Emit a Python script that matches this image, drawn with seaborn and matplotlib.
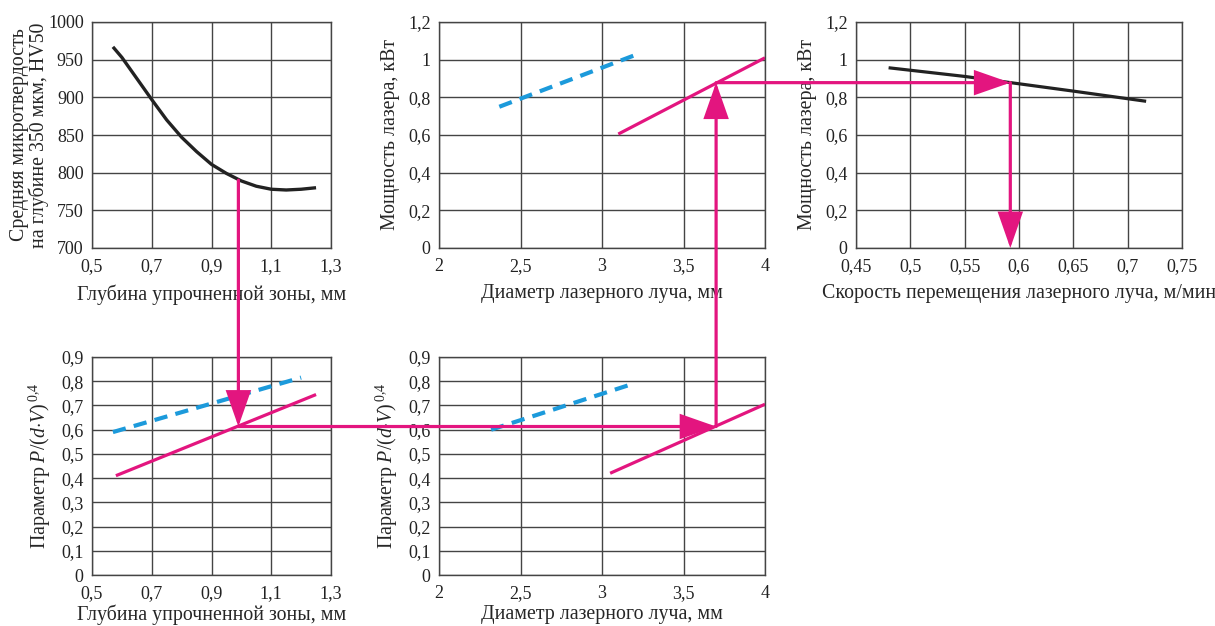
import numpy as np
import pandas as pd
import matplotlib
matplotlib.use("Agg")
import matplotlib.pyplot as plt
from matplotlib.patches import ConnectionPatch
import matplotlib.ticker as mticker
import seaborn as sns

# ---------------- data ----------------
# Panel 1: average microhardness vs depth of hardened zone
depth_hv = [0.57, 0.60, 0.65, 0.70, 0.75, 0.80, 0.85, 0.90, 0.95, 1.00,
            1.05, 1.10, 1.15, 1.20, 1.25]
hv50 = [967, 953, 925, 897, 870, 847, 828, 811, 799, 789,
        782, 778, 777, 778, 780]

# Panel 2: laser power vs beam diameter
diam_blue_p = [2.37, 3.22]
power_blue = [0.75, 1.03]
diam_pink_p = [3.10, 4.00]
power_pink = [0.605, 1.01]

# Panel 3: laser power vs beam speed
speed = [0.48, 0.55, 0.65, 0.717]
power_speed = [0.957, 0.911, 0.833, 0.779]

# Panel 4: parameter P/(dV)^0.4 vs depth
depth_blue = [0.57, 1.20]
param_blue_d = [0.59, 0.815]
depth_pink = [0.58, 1.25]
param_pink_d = [0.41, 0.745]

# Panel 5: parameter P/(dV)^0.4 vs beam diameter
diam_blue_q = [2.32, 3.17]
param_blue_q = [0.60, 0.785]
diam_pink_q = [3.05, 4.00]
param_pink_q = [0.42, 0.705]

# nomogram path (reading example)
path_depth = 0.99
path_hv = 790
path_param = 0.613
path_diam = 3.70
path_power = 0.878
path_speed = 0.592

# tick labels
ticks_depth = [0.5, 0.7, 0.9, 1.1, 1.3]
ticks_hv = [700, 750, 800, 850, 900, 950, 1000]
ticks_diam = [2, 2.5, 3, 3.5, 4]
ticks_power = [0, 0.2, 0.4, 0.6, 0.8, 1.0, 1.2]
ticks_speed = [0.45, 0.5, 0.55, 0.6, 0.65, 0.7, 0.75]
ticks_param = [0, 0.1, 0.2, 0.3, 0.4, 0.5, 0.6, 0.7, 0.8, 0.9]

# ---------------- style ----------------
sns.set_style("white")
plt.rcParams["font.family"] = ["Liberation Serif", "DejaVu Serif"]
plt.rcParams["mathtext.fontset"] = "custom"
plt.rcParams["mathtext.rm"] = "Liberation Serif"
plt.rcParams["mathtext.it"] = "Liberation Serif:italic"

BLACK = "#222222"
PINK = "#E3157F"
BLUE = "#1C9ADB"
GRID = "#444444"
TICK_FS = 13
LABEL_FS = 14.3

W, H = 1215, 626
fig = plt.figure(figsize=(W / 100, H / 100), dpi=100)


def add_ax(l, t, r, b):
    return fig.add_axes([l / W, 1 - b / H, (r - l) / W, (b - t) / H])


ax1 = add_ax(92, 22, 331, 248)
ax2 = add_ax(439, 22, 765, 248)
ax3 = add_ax(856, 22, 1182, 248)
ax4 = add_ax(92, 357, 331, 575)
ax5 = add_ax(439, 357, 765, 575)


def fmt(v, pos=None):
    return ("%g" % v).replace(".", ",")


def style(ax, xt, yt):
    ax.set_xticks(xt)
    ax.set_yticks(yt)
    ax.set_xlim(xt[0], xt[-1])
    ax.set_ylim(yt[0], yt[-1])
    ax.xaxis.set_major_formatter(mticker.FuncFormatter(fmt))
    ax.yaxis.set_major_formatter(mticker.FuncFormatter(fmt))
    ax.grid(True, color=GRID, linewidth=1.0)
    ax.tick_params(axis="x", length=0, labelsize=TICK_FS, pad=7, colors="#222222")
    ax.tick_params(axis="y", length=0, labelsize=TICK_FS, pad=6, colors="#222222")
    for s in ax.spines.values():
        s.set_color(GRID)
        s.set_linewidth(1.0)
    ax.set_axisbelow(True)


def line(ax, x, y, color, dashed=False, lw=2.3):
    df = pd.DataFrame({"x": x, "y": y})
    sns.lineplot(data=df, x="x", y="y", ax=ax, color=color, linewidth=lw,
                 sort=False, estimator=None, legend=False)
    ln = ax.lines[-1]
    if dashed:
        ln.set_dashes([3.2, 2.0])
        ln.set_linewidth(3.0)
    ln.set_solid_capstyle("butt")
    ln.set_solid_joinstyle("round")
    ax.set_xlabel("")
    ax.set_ylabel("")


# Panel 1
line(ax1, depth_hv, hv50, BLACK, lw=2.4)
style(ax1, ticks_depth, ticks_hv)
ax1.set_ylabel("Средняя микротвердость\nна глубине 350 мкм, HV50", fontsize=LABEL_FS,
               linespacing=1.0, labelpad=-1)
ax1.set_xlabel("Глубина упрочненной зоны, мм", fontsize=LABEL_FS, labelpad=7)

# Panel 2
line(ax2, diam_blue_p, power_blue, BLUE, dashed=True)
line(ax2, diam_pink_p, power_pink, PINK)
style(ax2, ticks_diam, ticks_power)
ax2.set_ylabel("Мощность лазера, кВт", fontsize=LABEL_FS, labelpad=6)
ax2.set_xlabel("Диаметр лазерного луча, мм", fontsize=LABEL_FS, labelpad=7)

# Panel 3
line(ax3, speed, power_speed, BLACK)
style(ax3, ticks_speed, ticks_power)
ax3.set_ylabel("Мощность лазера, кВт", fontsize=LABEL_FS, labelpad=6)
ax3.set_xlabel("Скорость перемещения лазерного луча, м/мин", fontsize=LABEL_FS, labelpad=7)

# Panel 4
line(ax4, depth_blue, param_blue_d, BLUE, dashed=True)
line(ax4, depth_pink, param_pink_d, PINK)
style(ax4, ticks_depth, ticks_param)
ylab = r"Параметр $P/(d{\cdot}V)^{\,\mathrm{0{,}4}}$"
ax4.set_ylabel(ylab, fontsize=LABEL_FS, labelpad=6)
ax4.set_xlabel("Глубина упрочненной зоны, мм", fontsize=LABEL_FS, labelpad=2)

# Panel 5
line(ax5, diam_blue_q, param_blue_q, BLUE, dashed=True)
line(ax5, diam_pink_q, param_pink_q, PINK)
style(ax5, ticks_diam, ticks_param)
ax5.set_ylabel(ylab, fontsize=LABEL_FS, labelpad=6)
ax5.set_xlabel("Диаметр лазерного луча, мм", fontsize=LABEL_FS, labelpad=2)

# ---------------- nomogram path ----------------
astyle = "-|>,head_length=1.2,head_width=0.42"


def connect(pa, axa, pb, axb, arrow=True):
    cp = ConnectionPatch(xyA=pa, coordsA=axa.transData, xyB=pb, coordsB=axb.transData,
                         arrowstyle=astyle if arrow else "-", mutation_scale=18,
                         color=PINK, linewidth=2.3, shrinkA=0, shrinkB=0,
                         joinstyle="miter", zorder=10)
    fig.add_artist(cp)


connect((path_depth, path_hv), ax1, (path_depth, path_param), ax4)
connect((path_depth, path_param), ax4, (path_diam, path_param), ax5)
connect((path_diam, path_param), ax5, (path_diam, path_power), ax2)
connect((path_diam, path_power), ax2, (path_speed, path_power), ax3)
connect((path_speed, path_power), ax3, (path_speed, 0.0), ax3)

fig.savefig("out.png", dpi=100)
